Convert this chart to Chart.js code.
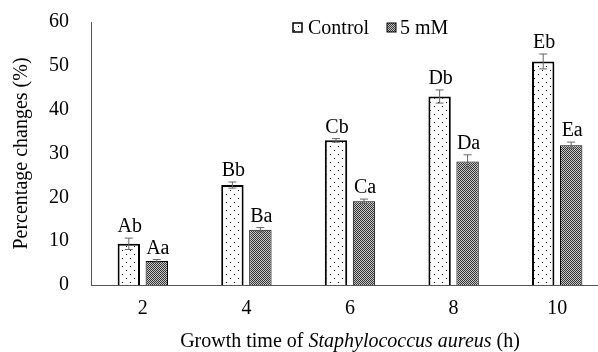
<!DOCTYPE html>
<html>
<head>
<meta charset="utf-8">
<script src="https://cdn.jsdelivr.net/npm/chart.js@4"></script>
<style>
  html, body { margin: 0; padding: 0; background: #fff; overflow: hidden; }
  #wrap { width: 609px; height: 352px; }
</style>
</head>
<body>
<div id="wrap"><canvas id="chart" width="609" height="352"></canvas></div>
<script>
// data
const categories = ['2', '4', '6', '8', '10'];
const controlValues = [9.4, 22.8, 33.0, 43.0, 51.0];
const controlErrors = [1.3, 0.7, 0.4, 1.5, 1.7];
const controlLetters = ['Ab', 'Bb', 'Cb', 'Db', 'Eb'];
const mmValues = [5.5, 12.6, 19.1, 28.2, 31.9];
const mmErrors = [0.3, 0.5, 0.5, 1.5, 0.7];
const mmLetters = ['Aa', 'Ba', 'Ca', 'Da', 'Ea'];
const yTicks = [0, 10, 20, 30, 40, 50, 60];

const FONT = '"Liberation Serif", "Times New Roman", serif';

// fill patterns
function dotPattern() {
    const c = document.createElement('canvas');
    c.width = 8; c.height = 8;
    const g = c.getContext('2d');
    g.fillStyle = '#fff';
    g.fillRect(0, 0, 8, 8);
    g.fillStyle = '#000';
    g.fillRect(2, 2, 1, 1);
    g.fillRect(6, 6, 1, 1);
    return g.createPattern(c, 'repeat');
}
function meshPattern() {
    const c = document.createElement('canvas');
    c.width = 2; c.height = 2;
    const g = c.getContext('2d');
    g.fillStyle = '#c8c8c8';
    g.fillRect(0, 0, 2, 2);
    g.fillStyle = '#333';
    g.fillRect(0, 0, 1, 1);
    g.fillRect(1, 1, 1, 1);
    return g.createPattern(c, 'repeat');
}
const dots = dotPattern();
const mesh = meshPattern();

// error bars + letters above the bars
const extras = {
    id: 'extras',
    afterDatasetsDraw(chart) {
        const ctx = chart.ctx;
        const y = chart.scales.y;
        const errs = [controlErrors, mmErrors];
        const letters = [controlLetters, mmLetters];
        ctx.save();
        chart.data.datasets.forEach((ds, di) => {
            chart.getDatasetMeta(di).data.forEach((bar, i) => {
                const v = ds.data[i];
                const e = errs[di][i];
                const top = y.getPixelForValue(v + e);
                const bot = y.getPixelForValue(v - e);
                ctx.strokeStyle = '#666';
                ctx.lineWidth = 1;
                ctx.beginPath();
                ctx.moveTo(bar.x, top); ctx.lineTo(bar.x, bot);
                ctx.moveTo(bar.x - 4, top); ctx.lineTo(bar.x + 4, top);
                ctx.moveTo(bar.x - 4, bot); ctx.lineTo(bar.x + 4, bot);
                ctx.stroke();
                ctx.fillStyle = '#000';
                ctx.font = '20px ' + FONT;
                ctx.textAlign = 'center';
                ctx.textBaseline = 'bottom';
                ctx.fillText(letters[di][i], bar.x + 1, top - 1);
            });
        });
        ctx.restore();
    },
    afterDraw(chart) {
        const ctx = chart.ctx;
        const area = chart.chartArea;
        ctx.save();
        // legend
        ctx.font = '20px ' + FONT;
        ctx.textBaseline = 'middle';
        ctx.textAlign = 'left';
        const ly = 28;
        ctx.fillStyle = dots;
        ctx.fillRect(293, ly - 5, 9, 9);
        ctx.strokeStyle = '#000';
        ctx.lineWidth = 1.5;
        ctx.strokeRect(293, ly - 5, 9, 9);
        ctx.fillStyle = '#000';
        ctx.fillText('Control', 308, ly + 1);
        ctx.fillStyle = mesh;
        ctx.fillRect(387, ly - 5, 9, 9);
        ctx.lineWidth = 1;
        ctx.strokeRect(387, ly - 5, 9, 9);
        ctx.fillStyle = '#000';
        ctx.fillText('5 mM', 400, ly + 1);
        // x axis title with italic species name
        const parts = [
            ['Growth time of ', 'normal'],
            ['Staphylococcus aureus', 'italic'],
            [' (h)', 'normal']
        ];
        let total = 0;
        parts.forEach(p => {
            ctx.font = p[1] + ' 20px ' + FONT;
            total += ctx.measureText(p[0]).width;
        });
        let x = (area.left + area.right) / 2 - total / 2;
        parts.forEach(p => {
            ctx.font = p[1] + ' 20px ' + FONT;
            ctx.fillText(p[0], x, 342);
            x += ctx.measureText(p[0]).width;
        });
        ctx.restore();
    }
};

new Chart(document.getElementById('chart'), {
    type: 'bar',
    data: {
        labels: categories,
        datasets: [{
            label: 'Control',
            data: controlValues,
            backgroundColor: dots,
            borderColor: '#000',
            borderWidth: 2
        }, {
            label: '5 mM',
            data: mmValues,
            backgroundColor: mesh,
            borderColor: '#000',
            borderWidth: 1
        }]
    },
    options: {
        responsive: false,
        animation: false,
        layout: { padding: { top: 22, left: 6, right: 0, bottom: 32 } },
        categoryPercentage: 0.54,
        barPercentage: 0.8,
        plugins: {
            legend: { display: false },
            tooltip: { enabled: false }
        },
        scales: {
            x: {
                grid: { display: false, drawTicks: false },
                border: { color: '#555', width: 1 },
                ticks: { color: '#000', font: { family: FONT, size: 20 }, padding: 12 },
                afterFit: axis => { axis.height = 35; }
            },
            y: {
                min: 0,
                max: 60,
                afterBuildTicks: axis => { axis.ticks = yTicks.map(v => ({ value: v })); },
                grid: { display: false, drawTicks: false },
                border: { color: '#555', width: 1 },
                ticks: { color: '#000', font: { family: FONT, size: 20 }, padding: 22 },
                title: {
                    display: true,
                    text: 'Percentage changes (%)',
                    color: '#000',
                    font: { family: FONT, size: 20 },
                    padding: { top: 4, bottom: 0 }
                },
                afterFit: axis => {
                    axis.width = 85;
                    axis.paddingTop = 0;
                    axis.paddingBottom = 0;
                }
            }
        }
    },
    plugins: [extras]
});
</script>
</body>
</html>
